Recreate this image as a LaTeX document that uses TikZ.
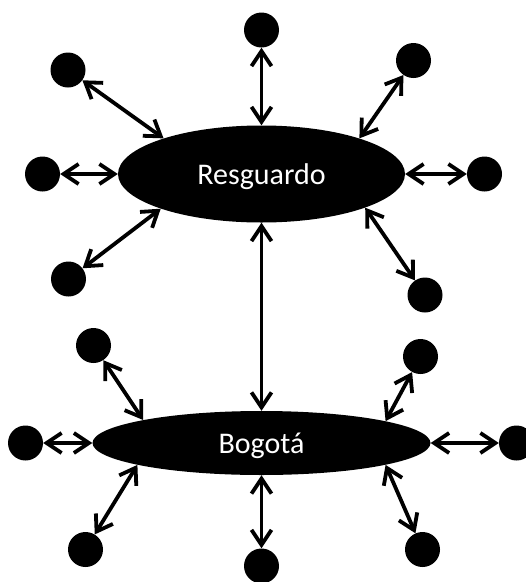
\documentclass[tikz,border=0pt]{standalone}
\usepackage{fontspec}
\setmainfont{Carlito}
\usetikzlibrary{arrows.meta,shapes.geometric}
\begin{document}
\begin{tikzpicture}[x=1pt,y=-1pt,
  dot/.style={circle,fill=black,minimum size=35pt,inner sep=0pt},
  hub/.style={ellipse,fill=black,inner sep=0pt,text=white,text depth=0pt,font=\fontsize{30}{36}\selectfont},
  barb/.tip={Straight Barb[length=15pt,width=20pt]},
  link/.style={line width=3.8pt,barb-barb}]
\useasboundingbox (0,0) rectangle (526,582);
% hubs
\node[hub,minimum width=287pt,minimum height=97pt] (R) at (261.5,174) {Resguardo};
\node[hub,minimum width=338pt,minimum height=64pt] (B) at (261.5,443) {Bogotá};
% Resguardo satellites
\node[dot] (t)  at (261.5,30) {};
\node[dot] (ul) at (68,70) {};
\node[dot] (ur) at (413.5,60.5) {};
\node[dot] (l)  at (42.5,174) {};
\node[dot] (r)  at (484.5,174) {};
\node[dot] (ll) at (68.5,279) {};
\node[dot] (lr) at (425,295) {};
% Bogota satellites
\node[dot] (bul) at (93.5,345.5) {};
\node[dot] (bur) at (420.5,356.5) {};
\node[dot] (bl)  at (25.5,443) {};
\node[dot] (br)  at (516.5,443) {};
\node[dot] (bll) at (85.5,549.5) {};
\node[dot] (blr) at (422.5,549.5) {};
\node[dot] (bb)  at (261.5,566) {};
% links Resguardo
\draw[link] (t) -- (R.north);
\draw[link] (ul) -- (R.160.5);
\draw[link] (l) -- (R.west);
\draw[link] (ll) -- (R.199);
\draw[link] (ur) -- (R.20);
\draw[link] (r) -- (R.east);
\draw[link] (lr) -- (R.342);
% link between hubs
\draw[link] (R.south) -- (B.north);
% links Bogota
\draw[link] (bul) -- (B.169);
\draw[link] (bl) -- (B.west);
\draw[link] (bll) -- (B.190);
\draw[link] (bur) -- (B.10.5);
\draw[link] (br) -- (B.east);
\draw[link] (blr) -- (B.350);
\draw[link] (B.south) -- (bb);
\end{tikzpicture}
\end{document}
